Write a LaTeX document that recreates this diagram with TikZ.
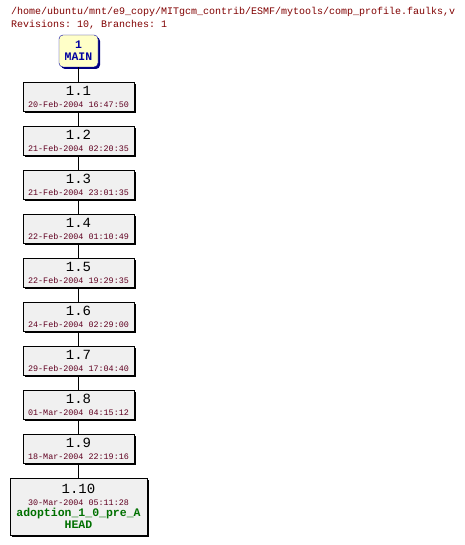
\documentclass[tikz,border=0pt]{standalone}
\usepackage{fontspec}
\setmonofont{Liberation Mono}
\usetikzlibrary{positioning,shadows}
\definecolor{hdrred}{HTML}{800000}
\definecolor{datered}{HTML}{600020}
\definecolor{boxgray}{HTML}{F0F0F0}
\definecolor{mainfill}{HTML}{FFFFC8}
\definecolor{mainblue}{HTML}{0000A0}
\definecolor{tagGreen}{HTML}{007000}
\tikzset{
  rev/.style={draw,fill=boxgray,inner sep=0pt,align=center,font=\ttfamily,
    drop shadow={shadow xshift=2pt,shadow yshift=-2pt,fill=black,opacity=1}},
  hdr/.style={anchor=west,inner sep=0pt,text=hdrred,font=\ttfamily\fontsize{10}{10}\selectfont},
}
\newcommand{\revtxt}[2]{{\fontsize{14}{13}\selectfont #1}\\{\fontsize{8.4}{9}\selectfont\color{datered}#2}}
\begin{document}
\begin{tikzpicture}[x=1pt,y=-1pt]
\useasboundingbox (0,0) rectangle (464,545);
\node[hdr] (path) at (11,12) {/home/ubuntu/mnt/e9\_copy/MITgcm\_contrib/ESMF/mytools/comp\_profile.faulks,v};
\node[hdr] (stats) at (11,25) {Revisions: 10, Branches: 1};
% branch box
\node[draw=mainblue,fill=mainfill,rounded corners=4pt,minimum width=39pt,minimum height=32pt,inner sep=0pt,
  align=center,text=mainblue,font=\ttfamily\bfseries\fontsize{11.5}{12}\selectfont,
  drop shadow={shadow xshift=2pt,shadow yshift=-2pt,fill=mainblue!80!black,opacity=1}] (main) at (78.5,51) {1\\MAIN};
% revisions
\foreach \r/\d in {1/20-Feb-2004 16:47:50,2/21-Feb-2004 02:20:35,3/21-Feb-2004 23:01:35,
  4/22-Feb-2004 01:10:49,5/22-Feb-2004 19:29:35,6/24-Feb-2004 02:29:00,
  7/29-Feb-2004 17:04:40,8/01-Mar-2004 04:15:12,9/18-Mar-2004 22:19:16}
  \node[rev,minimum width=111pt,minimum height=29pt] (rev\r) at (78.5,{96.5+44*(\r-1)}) {\revtxt{1.\r}{\d}};
\node[rev,minimum width=137pt,minimum height=57pt] (rev10) at (78.5,506.5)
  {\revtxt{1.10}{30-Mar-2004 05:11:28}\\[-1pt]{\bfseries\color{tagGreen}\fontsize{11.5}{13}\selectfont adoption\_1\_0\_pre\_A}\\{\bfseries\color{tagGreen}\fontsize{11.5}{13}\selectfont HEAD}};
% connectors
\foreach \a/\b in {main/rev1,rev1/rev2,rev2/rev3,rev3/rev4,rev4/rev5,rev5/rev6,rev6/rev7,rev7/rev8,rev8/rev9,rev9/rev10}
  \draw (\a.south) -- (\b.north);
\end{tikzpicture}
\end{document}
